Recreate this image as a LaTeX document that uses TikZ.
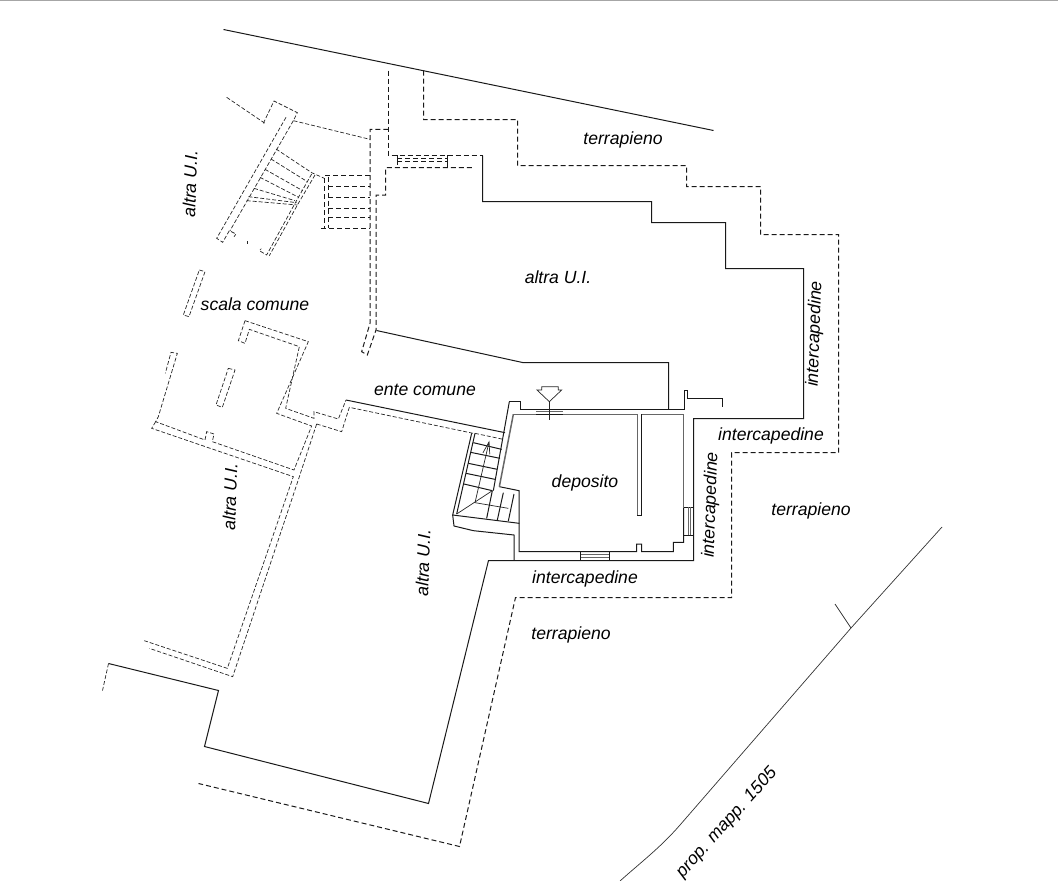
\documentclass[tikz,border=0pt]{standalone}
\usepackage{fontspec}
\setmainfont{Liberation Sans}
\usetikzlibrary{arrows.meta}
\tikzset{
  solidwall/.style={line width=1pt,color=black!90,line join=miter},
  dashwall/.style={line width=1pt,color=black!90,dash pattern=on 5pt off 3pt},
  dashfine/.style={line width=.7pt,color=black!85,dash pattern=on 4pt off 2pt},
  graywall/.style={line width=1.5pt,color=black!60},
  thinline/.style={line width=.7pt,color=black!85},
  fineline/.style={line width=.7pt,color=black!80},
  pxsnap/.style={xshift=.5pt,yshift=-.5pt},
  lab/.style={font=\fontsize{17.6}{19}\selectfont\itshape,inner sep=0pt,text=black},
  zA/.style={x=.33333pt,y=-.33333pt,xshift=140pt,yshift=-80pt},
  zB/.style={x=.33333pt,y=-.33333pt,xshift=440pt,yshift=-370pt},
  zC/.style={x=.33333pt,y=-.33333pt,xshift=90pt,yshift=-320pt},
  zF/.style={x=.33333pt,y=-.33333pt,xshift=440pt,yshift=-420pt},
}
\begin{document}
\begin{tikzpicture}[x=1pt,y=-1pt]
\useasboundingbox (0,0) rectangle (1058,881);
\draw[line width=1pt,color=black!35] (0,0.5) -- (1058,0.5);

% outer boundaries
\begin{scope}[pxsnap]
\draw[solidwall] (223,29) -- (713,130);
\draw[dashwall] (423,70) -- (423,119) -- (517,119) -- (517,165) -- (686,165) -- (686,186) -- (760,186) -- (760,234) -- (838,234) -- (838,452) -- (731,452) -- (731,597) -- (515,597) -- (459,846) -- (198,783);
\draw[dashwall] (388,70) -- (388,155) -- (482,155);
\draw[solidwall] (482,155) -- (482,201) -- (651,201) -- (651,222) -- (725,222) -- (725,268) -- (803,268) -- (803,418) -- (693,418) -- (693,560) -- (488,560) -- (428,803) -- (204,746) -- (218,690) -- (108,663);
\draw[dashfine] (108,663) -- (102,690);
\draw[solidwall] (376,330) -- (522,362) -- (668,362) -- (668,409);
\end{scope}

% property line
\draw[fineline] (942,527) -- (851,628) -- (680,825) .. controls (660,848) and (640,863) .. (620,881);
\draw[fineline] (835,604) -- (851,628);

% upper-left staircase and walls
\begin{scope}[zA]
\draw[dashfine] (260,52) -- (375,130);
\draw[dashfine] (370,130) -- (402,63) -- (472,98) -- (460,122) -- (690,178);
\draw[dashfine] (438,112) -- (230,475) -- (248,487) -- (268,452) -- (288,462) -- (282,470);
\draw[dashfine] (460,122) -- (270,452);
\draw[dashfine] (408,207) -- (515,278) -- (553,295);
\draw[dashfine] (393,237) -- (502,305);
\draw[dashfine] (375,268) -- (488,332);
\draw[dashfine] (360,292) -- (476,352);
\draw[dashfine] (342,325) -- (465,362);
\draw[dashfine] (325,350) -- (470,368);
\draw[dashfine] (320,362) -- (472,375);
\draw[dashfine] (515,282) -- (465,370) -- (380,525) -- (358,512) -- (364,506);
\draw[dashfine] (525,285) -- (475,370) -- (388,527);
\draw[dashfine] (322,483) -- (322,491);
\draw[dashwall] (690,287) -- (553,287) -- (553,445);
\draw[dashwall] (565,290) -- (565,445);
\draw[dashwall] (543,445) -- (690,445);
\draw[dashwall] (565,319) -- (690,319);
\draw[dashwall] (565,352) -- (690,352);
\draw[dashwall] (565,384) -- (690,384);
\draw[dashwall] (565,413) -- (690,413);
\draw[dashwall] (745,148) -- (690,148) -- (690,730) -- (665,815) -- (682,825) -- (708,750) -- (708,345) -- (737,345) -- (737,263) -- (1000,263);
\draw[solidwall] (772,225) -- (772,255);
\draw[solidwall] (922,225) -- (922,263);
\draw[dashwall] (772,235) -- (920,235);
\draw[dashwall] (772,245) -- (920,245);
\draw[dashfine] (178,570) -- (195,575) -- (147,710) -- (130,705) -- cycle;
\end{scope}

% left rooms
\begin{scope}[zC]
\draw[dashfine] (465,2) -- (655,65) -- (560,280) -- (665,318) -- (612,450) -- (367,365) -- (372,342) -- (350,335) -- (345,360) -- (197,305) -- (205,290) -- (262,100) -- (243,97) -- (226,160);
\draw[dashfine] (465,2) -- (445,62) -- (465,70) -- (478,28) -- (628,80) -- (587,265) -- (672,295) -- (672,275) -- (745,297) -- (768,240);
\draw[dashfine] (197,305) -- (185,325) -- (610,470) -- (412,1045) -- (163,962);
\draw[dashfine] (680,312) -- (628,470) -- (428,1070) -- (178,985);
\draw[dashfine] (680,312) -- (755,335) -- (778,262) -- (1150,340);
\draw[dashfine] (415,145) -- (435,150) -- (397,262) -- (378,255) -- cycle;
\draw[solidwall] (768,240) -- (1245,338);
\end{scope}

% deposit building
\begin{scope}[zB]
\draw[solidwall] (208,95) -- (240,95) -- (240,118) -- (288,118);
\draw[solidwall] (370,118) -- (732,118) -- (732,62) -- (743,62) -- (743,85) -- (848,85) -- (848,110);
\draw[graywall] (220,133) -- (288,133);
\draw[graywall] (370,133) -- (590,133);
\draw[graywall] (605,133) -- (731,133);
\draw[graywall] (731,133) -- (731,412);
\draw[solidwall] (731,412) -- (731,517) -- (700,517) -- (700,545) -- (605,545) -- (605,522) -- (590,522) -- (590,545) -- (237,545) -- (237,362) -- (178,350);
\draw[graywall] (592,133) -- (592,437);
\draw[solidwall] (605,133) -- (605,437) -- (590,437);
\draw[graywall] (220,133) -- (178,350);
\draw[solidwall] (208,95) -- (160,362);
% windows
\draw[solidwall] (288,118) -- (370,118);
\draw[graywall] (288,125) -- (370,125);
\draw[solidwall] (288,133) -- (370,133);
\draw[solidwall] (731,412) -- (758,412);
\draw[solidwall] (731,495) -- (758,495);
\draw[graywall] (745,412) -- (745,495);
\draw[graywall] (752,412) -- (752,495);
\draw[solidwall] (422,545) -- (422,572);
\draw[solidwall] (508,545) -- (508,572);
\draw[graywall] (422,553) -- (508,553);
\draw[graywall] (422,562) -- (508,562);
% entry symbol
\draw[thinline] (305,50) -- (355,50) -- (355,60) -- (365,60) -- (328,95) -- (291,60) -- (305,60) -- cycle;
\draw[thinline] (328,95) -- (328,150);
\end{scope}

% lower staircase
\begin{scope}[zF]
\draw[solidwall] (95,40) -- (38,285) -- (238,310);
\draw[solidwall] (105,40) -- (50,282);
\draw[dashfine] (105,40) -- (190,58);
\draw[solidwall] (100,68) -- (185,88);
\draw[solidwall] (92,97) -- (180,115);
\draw[solidwall] (85,130) -- (172,148);
\draw[solidwall] (78,160) -- (165,178);
\draw[solidwall] (72,192) -- (157,212);
\draw[thinline,-{Straight Barb[length=12pt,width=7pt]}] (105,248) -- (148,62);
\draw[thinline] (50,282) -- (157,212);
\draw[thinline] (105,248) -- (205,265);
\draw[solidwall] (157,212) -- (140,295);
\draw[solidwall] (190,218) -- (172,300);
\draw[solidwall] (222,222) -- (205,303);
\draw[solidwall] (38,285) -- (42,318) -- (100,332) -- (222,345) -- (222,422);
\end{scope}

% labels
\node[lab] (t1) at (623,140) {terrapieno};
\node[lab,rotate=88] (u1) at (190,184) {altra U.I.};
\node[lab] (sc) at (255,304) {scala comune};
\node[lab] (u2) at (558,277) {altra U.I.};
\node[lab,rotate=88] (i1) at (815,334) {intercapedine};
\node[lab] (ec) at (425,390) {ente comune};
\node[lab] (i2) at (771,436) {intercapedine};
\node[lab] (dep) at (585,483) {deposito};
\node[lab,rotate=88] (i3) at (711,505) {intercapedine};
\node[lab] (t2) at (811,511) {terrapieno};
\node[lab,rotate=88] (u3) at (230,497) {altra U.I.};
\node[lab,rotate=88] (u4) at (423,563) {altra U.I.};
\node[lab] (i4) at (585,579) {intercapedine};
\node[lab] (t3) at (571,635) {terrapieno};
\node[lab,rotate=48] (pm) at (727,823) {prop. mapp. 1505};
\end{tikzpicture}
\end{document}
